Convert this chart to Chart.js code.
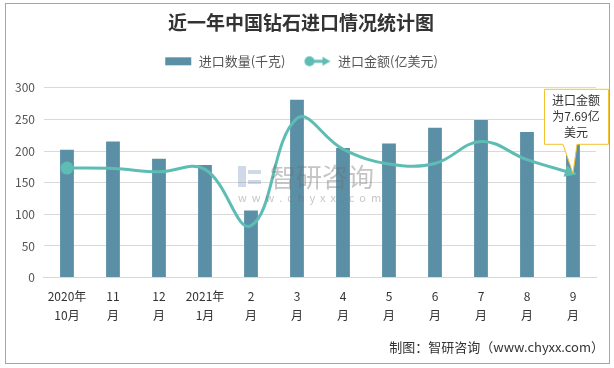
<!DOCTYPE html>
<html>
<head>
<meta charset="utf-8">
<script src="https://cdn.jsdelivr.net/npm/chart.js@4"></script>
<style>
  body { margin: 0; background: #fff; }
  canvas { display: block; }
</style>
</head>
<body>
<canvas id="diamondChart" width="614" height="368"></canvas>
<script>
// months shown on the x axis (two lines each)
const months = [
  ['2020年', '10月'], ['11', '月'], ['12', '月'], ['2021年', '1月'],
  ['2', '月'], ['3', '月'], ['4', '月'], ['5', '月'],
  ['6', '月'], ['7', '月'], ['8', '月'], ['9', '月']
];
// import quantity, thousand kg
const quantity = [202, 215, 188, 178, 106, 281, 205, 212, 237, 249, 230, 222];
// import value, 100 million USD
const amount = [8.08, 8.05, 7.8, 7.98, 3.83, 11.74, 9.48, 8.38, 8.42, 10.04, 8.7, 7.69];
const yTicks = [0, 50, 100, 150, 200, 250, 300];

const barColor = '#5b8fa6';
const lineColor = '#5dbdb4';
const cjk = '"Noto Sans CJK SC", "Microsoft YaHei", sans-serif';

function legendIcon(kind) {
  const c = document.createElement('canvas');
  c.width = 28; c.height = 12;
  const g = c.getContext('2d');
  if (kind === 'bar') {
    g.fillStyle = barColor;
    g.fillRect(1, 2, 26, 8);
  } else {
    g.strokeStyle = lineColor; g.fillStyle = lineColor; g.lineWidth = 3;
    g.beginPath(); g.moveTo(6, 6); g.lineTo(21, 6); g.stroke();
    g.beginPath(); g.arc(6, 6, 5, 0, Math.PI * 2); g.fill();
    g.beginPath(); g.moveTo(27, 6); g.lineTo(19, 1.5); g.lineTo(19, 10.5); g.closePath(); g.fill();
  }
  return c;
}

const frame = {
  id: 'frame',
  beforeInit(chart) {
    // extra room between legend and plot
    const fit = chart.legend.fit;
    chart.legend.fit = function () {
      fit.call(this);
      this.height += 10;
    };
  },
  beforeDraw(chart) {
    const g = chart.ctx;
    g.save();
    g.fillStyle = '#fff';
    g.fillRect(0, 0, chart.width, chart.height);
    g.strokeStyle = '#a6a6a6';
    g.lineWidth = 1;
    g.strokeRect(5.5, 3.5, 604, 360);
    g.restore();
  },
  afterDatasetsDraw(chart) {
    const g = chart.ctx;
    const pts = chart.getDatasetMeta(1).data;
    const last = pts[pts.length - 1];
    // arrow head at the end of the line
    const ang = Math.atan2(last.y - last.cp1y, last.x - last.cp1x);
    g.save();
    g.fillStyle = lineColor;
    g.translate(last.x, last.y);
    g.rotate(ang);
    g.beginPath();
    g.moveTo(4, 0); g.lineTo(-8, -6); g.lineTo(-8, 6); g.closePath();
    g.fill();
    g.restore();

    // watermark on top of the marks
    g.save();
    g.fillStyle = 'rgba(120,145,185,0.35)';
    g.fillRect(238, 166, 8, 21);
    g.fillRect(248, 170, 13, 4);
    g.fillRect(248, 180, 13, 4);
    g.fillStyle = 'rgba(110,110,110,0.4)';
    g.font = '26px ' + cjk;
    g.textBaseline = 'middle';
    g.fillText('智研咨询', 270, 177);
    g.font = '11px ' + cjk;
    g.fillText('w  w  w  .  c  h  y  x  x  .  c  o  m', 238, 198);
    g.restore();

    // callout
    const bx = last.x - 29, bw = 64, by = chart.chartArea.top + 1, bh = 55;
    g.save();
    g.fillStyle = '#fff';
    g.strokeStyle = '#f2c230';
    g.lineWidth = 1;
    g.beginPath();
    g.moveTo(bx + 0.5, by + 0.5);
    g.lineTo(bx + bw + 0.5, by + 0.5);
    g.lineTo(bx + bw + 0.5, by + bh + 0.5);
    g.lineTo(last.x + 4, by + bh + 0.5);
    g.lineTo(last.x, last.y);
    g.lineTo(last.x - 10, by + bh + 0.5);
    g.lineTo(bx + 0.5, by + bh + 0.5);
    g.closePath();
    g.fill();
    g.stroke();
    g.fillStyle = '#333';
    g.font = '12px ' + cjk;
    g.textAlign = 'center';
    g.textBaseline = 'middle';
    const cx = bx + bw / 2;
    g.fillText('进口金额', cx, by + 12);
    g.fillText('为7.69亿', cx, by + 28);
    g.fillText('美元', cx, by + 44);
    g.restore();
  },
  afterDraw(chart) {
    const g = chart.ctx;
    g.save();
    g.fillStyle = '#333';
    g.font = '13px ' + cjk;
    g.textAlign = 'right';
    g.textBaseline = 'middle';
    g.fillText('制图：智研咨询（www.chyxx.com）', 604, 347);
    g.restore();
  }
};

new Chart(document.getElementById('diamondChart'), {
  type: 'bar',
  data: {
    labels: months,
    datasets: [
      {
        type: 'bar',
        label: '进口数量(千克)',
        data: quantity,
        backgroundColor: barColor,
        barPercentage: 0.6,
        categoryPercentage: 0.5,
        yAxisID: 'y',
        order: 2
      },
      {
        type: 'line',
        label: '进口金额(亿美元)',
        data: amount,
        borderColor: lineColor,
        backgroundColor: lineColor,
        borderWidth: 3,
        tension: 0.4,
        pointRadius: amount.map((v, i) => i === 0 ? 5 : 0),
        pointHoverRadius: 0,
        yAxisID: 'y2',
        order: 1
      }
    ]
  },
  options: {
    responsive: false,
    animation: false,
    layout: { padding: { left: 6, right: 18, top: 7, bottom: 41 } },
    plugins: {
      title: {
        display: true,
        text: '近一年中国钻石进口情况统计图',
        color: '#333',
        font: { family: cjk, size: 19, weight: 'bold' },
        padding: { top: 4, bottom: 3 }
      },
      legend: {
        position: 'top',
        labels: {
          color: '#555',
          font: { family: cjk, size: 13 },
          usePointStyle: true,
          pointStyleWidth: 28,
          boxHeight: 12,
          padding: 18,
          generateLabels(chart) {
            return chart.data.datasets.map((ds, i) => ({
              text: ds.label,
              pointStyle: legendIcon(i === 0 ? 'bar' : 'line'),
              fontColor: '#555',
              datasetIndex: i,
              lineWidth: 0
            }));
          }
        }
      },
      tooltip: { enabled: false }
    },
    scales: {
      x: {
        grid: { display: false },
        border: { color: '#d9d9d9' },
        ticks: {
          color: '#333',
          font: { family: cjk, size: 12, lineHeight: 1.6 },
          maxRotation: 0,
          autoSkip: false,
          padding: 1.5
        }
      },
      y: {
        min: 0,
        max: 300,
        afterBuildTicks(axis) { axis.ticks = yTicks.map(v => ({ value: v })); },
        grid: { color: '#d9d9d9', drawTicks: false },
        border: { display: false },
        ticks: { color: '#555', font: { family: cjk, size: 12 }, padding: 9 }
      },
      y2: {
        display: false,
        min: 0,
        max: 14
      }
    }
  },
  plugins: [frame]
});
</script>
</body>
</html>
